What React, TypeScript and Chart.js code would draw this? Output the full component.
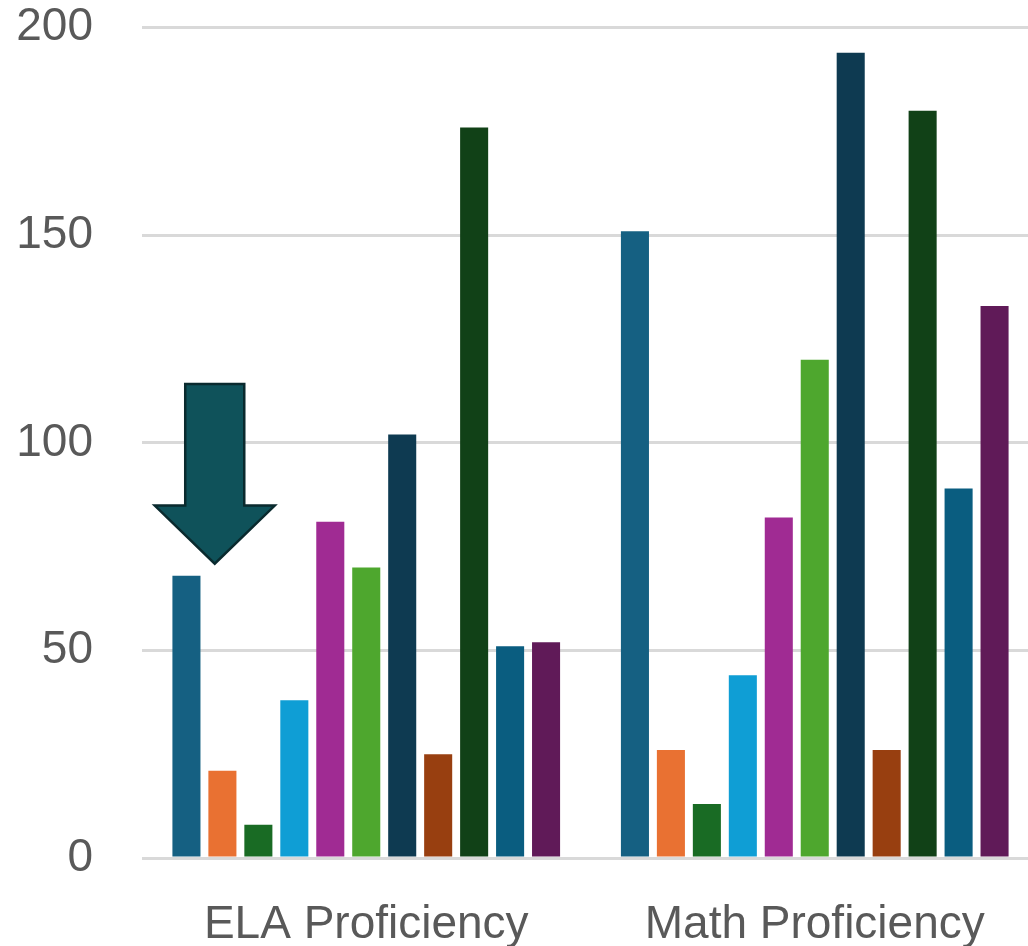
import React, { useEffect, useRef } from "react";
import { Chart, registerables } from "chart.js";

Chart.register(...registerables);

const categories = ["ELA Proficiency", "Math Proficiency"];
const seriesNames = [
  "Group 1", "Group 2", "Group 3", "Group 4", "Group 5", "Group 6",
  "Group 7", "Group 8", "Group 9", "Group 10", "Group 11",
];
const elaValues = [68, 21, 8, 38, 81, 70, 102, 25, 176, 51, 52];
const mathValues = [151, 26, 13, 44, 82, 120, 194, 26, 180, 89, 133];
const seriesColors = [
  "#156082", "#E97132", "#196B24", "#0F9ED5", "#A02B93", "#4EA72E",
  "#0E3A51", "#983F10", "#114117", "#0A5D80", "#601A58",
];
const yTicks = [0, 50, 100, 150, 200];

// Arrow annotation expressed in data units (category index offset, y values)
const arrowCategoryOffset = -0.3378;
const arrowShaftHalf = 0.0658;
const arrowHeadHalf = 0.1338;
const arrowTopValue = 114.2;
const arrowHeadBaseValue = 84.9;
const arrowTipValue = 70.9;

const arrowPlugin = {
  id: "arrowAnnotation",
  afterDatasetsDraw(chart: any) {
    const { ctx } = chart;
    const xs = chart.scales.x;
    const ys = chart.scales.y;
    const cx = (v: number) => xs.getPixelForValue(0 + arrowCategoryOffset + v);
    const yTop = ys.getPixelForValue(arrowTopValue);
    const yBase = ys.getPixelForValue(arrowHeadBaseValue);
    const yTip = ys.getPixelForValue(arrowTipValue);
    ctx.save();
    ctx.beginPath();
    ctx.moveTo(cx(-arrowShaftHalf), yTop);
    ctx.lineTo(cx(arrowShaftHalf), yTop);
    ctx.lineTo(cx(arrowShaftHalf), yBase);
    ctx.lineTo(cx(arrowHeadHalf), yBase);
    ctx.lineTo(cx(0), yTip);
    ctx.lineTo(cx(-arrowHeadHalf), yBase);
    ctx.lineTo(cx(-arrowShaftHalf), yBase);
    ctx.closePath();
    ctx.fillStyle = "#0F525A";
    ctx.fill();
    ctx.lineWidth = 2.5;
    ctx.strokeStyle = "#0A2A2E";
    ctx.lineJoin = "miter";
    ctx.stroke();
    ctx.restore();
  },
};

export default function App() {
  const ref = useRef<HTMLCanvasElement | null>(null);

  useEffect(() => {
    if (!ref.current) return;
    const font = { family: "'Liberation Sans', Arial, sans-serif", size: 46, lineHeight: 1.12 };
    const chart = new Chart(ref.current, {
      type: "bar",
      data: {
        labels: categories,
        datasets: seriesNames.map((name, i) => ({
          label: name,
          data: [elaValues[i], mathValues[i]],
          backgroundColor: seriesColors[i],
          borderWidth: 0,
          categoryPercentage: 0.882,
          barPercentage: 0.78,
        })),
      },
      options: {
        animation: false,
        responsive: false,
        devicePixelRatio: 1,
        layout: { padding: { left: 0, right: 0, top: 0, bottom: 0 } },
        plugins: { legend: { display: false }, tooltip: { enabled: false } },
        scales: {
          x: {
            grid: { display: false, drawTicks: false },
            border: { display: false },
            ticks: { font, color: "#595959", padding: 42 },
            afterFit: (s: any) => { s.height = 88; },
          },
          y: {
            min: 0,
            max: 200,
            afterBuildTicks: (s: any) => { s.ticks = yTicks.map((v) => ({ value: v })); },
            grid: { color: "#D9D9D9", lineWidth: 3, drawTicks: false },
            border: { display: false },
            ticks: { font, color: "#595959", padding: 49 },
            afterFit: (s: any) => { s.width = 142; },
          },
        },
      },
      plugins: [arrowPlugin],
    });
    return () => chart.destroy();
  }, []);

  return (
    <div style={{ position: "absolute", left: 0, top: 0, width: 1028, height: 946, overflow: "hidden", background: "#fff" }}>
      <canvas ref={ref} width={1039} height={993} style={{ display: "block", width: 1039, height: 993, marginTop: -47 }} />
    </div>
  );
}
